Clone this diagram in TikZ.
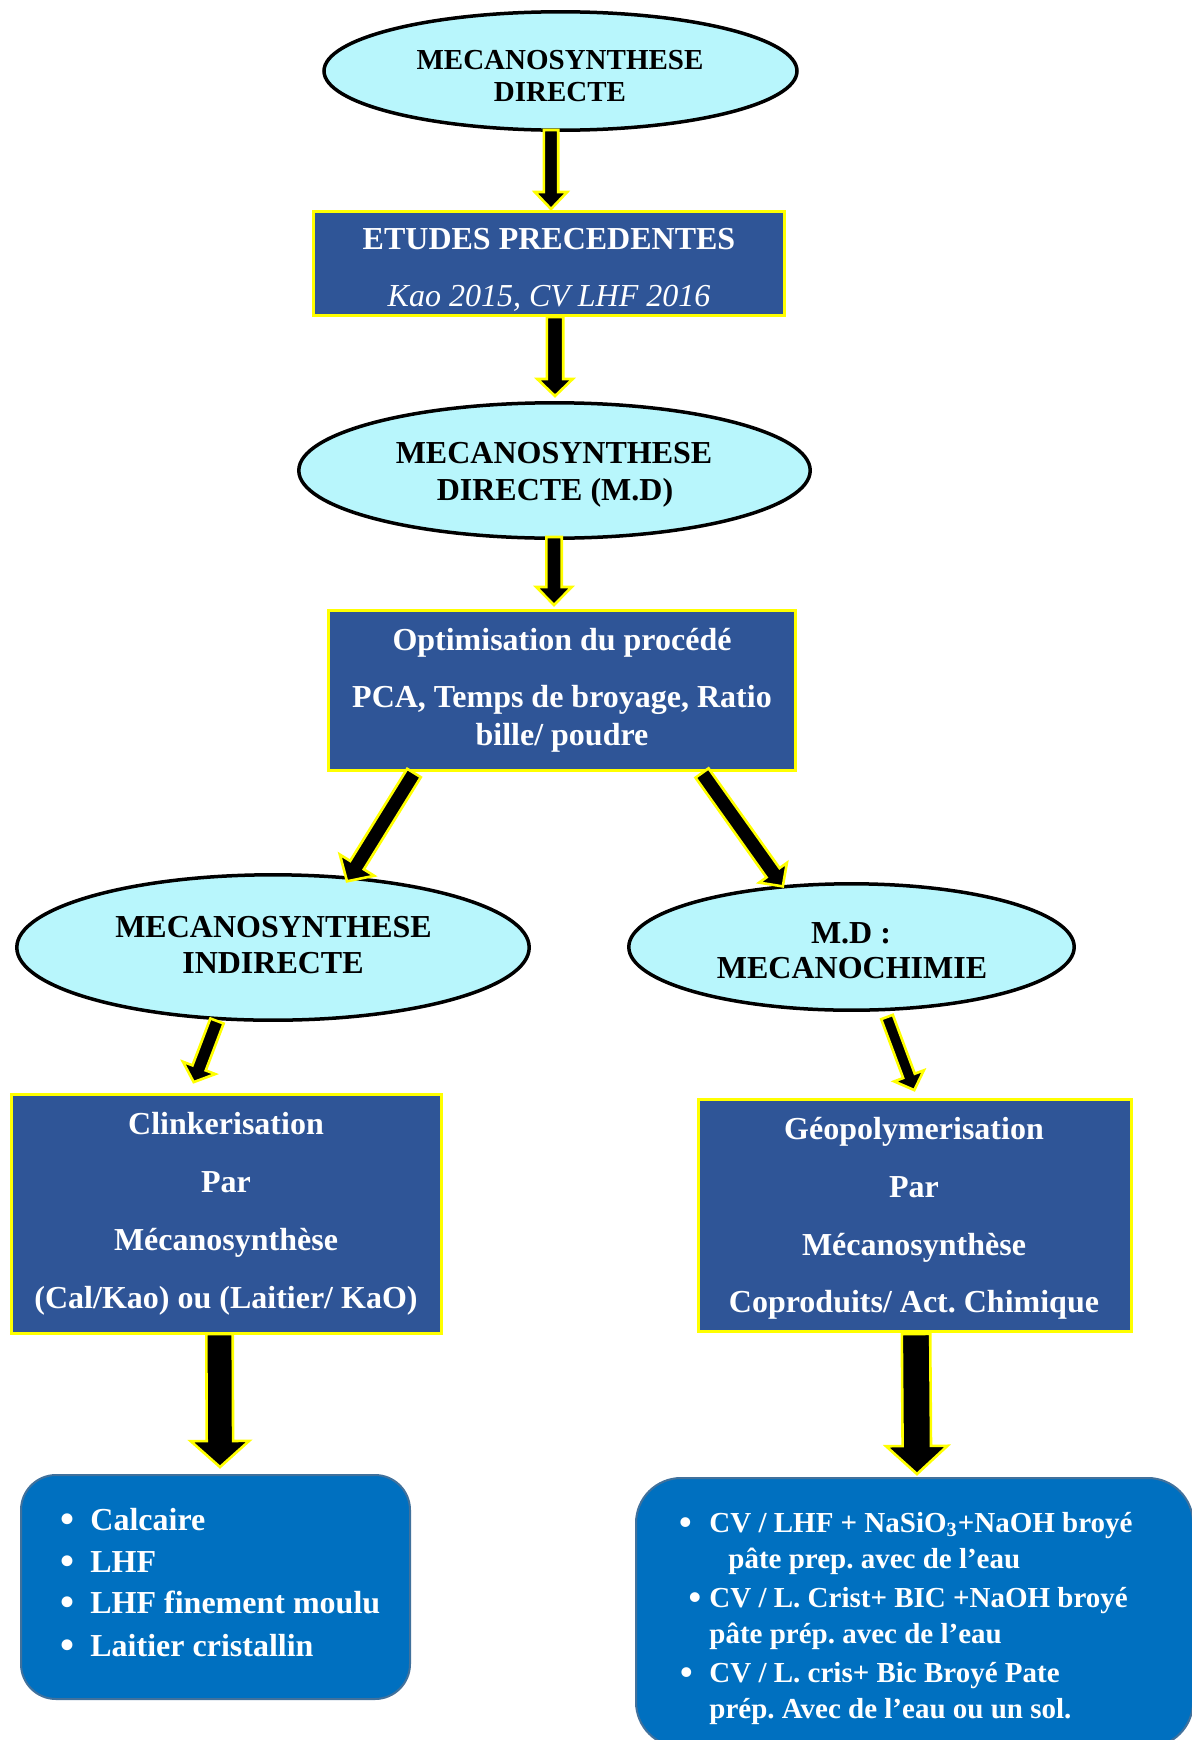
\documentclass[tikz,border=0pt]{standalone}
\usepackage{fontspec}
\setmainfont{Liberation Serif}
\usetikzlibrary{shapes.geometric,calc}
\frenchspacing
\definecolor{cyanfill}{RGB}{184,246,252}
\definecolor{boxblue}{RGB}{47,85,151}
\definecolor{rbblue}{RGB}{0,112,192}
\definecolor{rbborder}{RGB}{65,113,156}
\definecolor{yel}{RGB}{255,255,0}
\tikzset{
  ell/.style={ellipse, draw=black, line width=1.75pt, fill=cyanfill, inner sep=0pt},
  sqbox/.style={rectangle, draw=yel, line width=1.4pt, fill=boxblue, inner sep=0pt},
  rbox/.style={rectangle, draw=rbborder, line width=1pt, fill=rbblue, inner sep=0pt},
  bigtxt/.style={anchor=base, inner sep=0pt, font=\bfseries\fontsize{16}{19}\selectfont},
  smalltxt/.style={anchor=base, inner sep=0pt, font=\bfseries\fontsize{14.5}{17}\selectfont},
  blk/.style={bigtxt, text=black},
  wht/.style={bigtxt, text=white},
  bulbig/.style={anchor=base, inner sep=0pt, text=white, font=\bfseries\fontsize{20}{22}\selectfont},
  bulsmall/.style={anchor=base, inner sep=0pt, text=white, font=\bfseries\fontsize{18}{20}\selectfont},
  fat/.style={fill=black, draw=yel, line width=1.3pt, line join=miter, miter limit=10},
}
% #1 start, #2 tip, #3 shaft half width, #4 head half width, #5 head length
\newcommand\fatarrow[5]{%
  \coordinate (fab) at ($(#2)!#5!(#1)$);
  \filldraw[fat] ($(#1)!#3!90:(#2)$) -- ($(fab)!#3!-90:(#1)$) -- ($(fab)!#4!-90:(#1)$)
    -- (#2) -- ($(fab)!#4!90:(#1)$) -- ($(fab)!#3!90:(#1)$) -- ($(#1)!#3!-90:(#2)$) -- cycle;
}
\begin{document}
\begin{tikzpicture}[x=0.5pt,y=-0.5pt]
\useasboundingbox (0,0) rectangle (1192,1740);
\clip (0,0) rectangle (1192,1740);

% shapes
\node[ell, minimum width=236.5pt, minimum height=59.2pt] (e1) at (560.5,71) {};
\node[sqbox, minimum width=235.5pt, minimum height=52pt] (b1) at (549,263.5) {};
\node[ell, minimum width=255.7pt, minimum height=67.7pt] (e2) at (554.5,470.5) {};
\node[sqbox, minimum width=233.5pt, minimum height=80pt] (b2) at (562,690.5) {};
\node[ell, minimum width=256.2pt, minimum height=72.7pt] (e3) at (273,947.5) {};
\node[ell, minimum width=222.7pt, minimum height=63.2pt] (e4) at (851.5,947) {};
\node[sqbox, minimum width=215pt, minimum height=119.5pt] (b3) at (226.5,1214) {};
\node[sqbox, minimum width=216.5pt, minimum height=116pt] (b4) at (915,1215.5) {};
\node[rbox, rounded corners=17.5pt, minimum width=194.5pt, minimum height=112pt] (r1) at (215.5,1587) {};
\node[rbox, rounded corners=22.5pt, minimum width=278.5pt, minimum height=134.5pt] (r2) at (914.5,1612.5) {};

% texts
\node[smalltxt] (t1a) at (560,69) {MECANOSYNTHESE};
\node[smalltxt] (t1b) at (560,101.5) {DIRECTE};

\node[wht] (t2a) at (549,249) {ETUDES PRECEDENTES};
\node[wht, font=\itshape\fontsize{16}{19}\selectfont] (t2b) at (549,306.5) {Kao 2015, CV LHF 2016};

\node[blk] (t3a) at (554,463.6) {MECANOSYNTHESE};
\node[blk] (t3b) at (555,500) {DIRECTE (M.D)};

\node[wht] (t4a) at (562,650) {Optimisation du procédé};
\node[wht] (t4b) at (562,707) {PCA, Temps de broyage, Ratio};
\node[wht] (t4c) at (562,745) {bille/ poudre};

\node[blk] (t5a) at (273.5,937) {MECANOSYNTHESE};
\node[blk] (t5b) at (273,973) {INDIRECTE};

\node[blk] (t6a) at (851,943) {M.D :};
\node[blk] (t6b) at (852,978) {MECANOCHIMIE};

\node[wht] (t7a) at (226,1134) {Clinkerisation};
\node[wht] (t7b) at (226,1192) {Par};
\node[wht] (t7c) at (226,1250) {Mécanosynthèse};
\node[wht] (t7d) at (226,1308) {(Cal/Kao) ou (Laitier/ KaO)};

\node[wht] (t8a) at (914,1139) {Géopolymerisation};
\node[wht] (t8b) at (914,1197) {Par};
\node[wht] (t8c) at (914,1255) {Mécanosynthèse};
\node[wht] (t8d) at (914,1312) {Coproduits/ Act. Chimique};

% left rounded box list
\node[bulbig] (u1) at (68,1532.5) {•};
\node[wht, anchor=base west] (v1) at (90,1530) {Calcaire};
\node[bulbig] (u2) at (68,1574.5) {•};
\node[wht, anchor=base west] (v2) at (90,1572) {LHF};
\node[bulbig] (u3) at (68,1615.5) {•};
\node[wht, anchor=base west] (v3) at (90,1613) {LHF finement moulu};
\node[bulbig] (u4) at (68,1658.5) {•};
\node[wht, anchor=base west] (v4) at (90,1656) {Laitier cristallin};

% right rounded box list
\node[bulsmall] (w1) at (685.5,1534.5) {•};
\node[smalltxt, text=white, anchor=base west] (x1) at (709,1532) {CV / LHF + NaSiO\textsubscript{3}+NaOH broyé};
\node[smalltxt, text=white, anchor=base west] (x2) at (728,1568) {pâte prep. avec de l’eau};
\node[bulsmall] (w3) at (695,1609.5) {•};
\node[smalltxt, text=white, anchor=base west] (x3) at (709,1607) {CV / L. Crist+ BIC +NaOH broyé};
\node[smalltxt, text=white, anchor=base west] (x4) at (709,1643) {pâte prép. avec de l’eau};
\node[bulsmall] (w5) at (686.5,1684.5) {•};
\node[smalltxt, text=white, anchor=base west] (x5) at (709,1682) {CV / L. cris+ Bic Broyé Pate};
\node[smalltxt, text=white, anchor=base west] (x6) at (709,1718) {prép. Avec de l’eau ou un sol.};

% arrow end points
\coordinate (a1s) at (551,130);   \coordinate (a1e) at (551,209);
\coordinate (a2s) at (555,317);   \coordinate (a2e) at (555,396);
\coordinate (a3s) at (554,537);   \coordinate (a3e) at (554,605);
\coordinate (a4s) at (414,773);   \coordinate (a4e) at (347,881.3);
\coordinate (a5s) at (702,773);   \coordinate (a5e) at (782.8,886.4);
\coordinate (a6s) at (217,1021);  \coordinate (a6e) at (193.7,1082.1);
\coordinate (a7s) at (887,1017);  \coordinate (a7e) at (914.3,1090.1);
\coordinate (a8s) at (219.5,1334); \coordinate (a8e) at (220,1467);
\coordinate (a9s) at (916,1334);  \coordinate (a9e) at (917,1474);

% arrows
\fatarrow{a1s}{a1e}{3.6pt}{8.1pt}{8.5pt}
\fatarrow{a2s}{a2e}{4.1pt}{8.85pt}{8.5pt}
\fatarrow{a3s}{a3e}{3.85pt}{8.85pt}{9pt}
\fatarrow{a4s}{a4e}{4pt}{10.1pt}{9.5pt}
\fatarrow{a5s}{a5e}{4pt}{8.5pt}{8.4pt}
\fatarrow{a6s}{a6e}{3.55pt}{8.65pt}{7.6pt}
\fatarrow{a7s}{a7e}{3.1pt}{7.9pt}{7.6pt}
\fatarrow{a8s}{a8e}{6.6pt}{14.6pt}{13pt}
\fatarrow{a9s}{a9e}{7.1pt}{15.35pt}{14pt}
\end{tikzpicture}
\end{document}
